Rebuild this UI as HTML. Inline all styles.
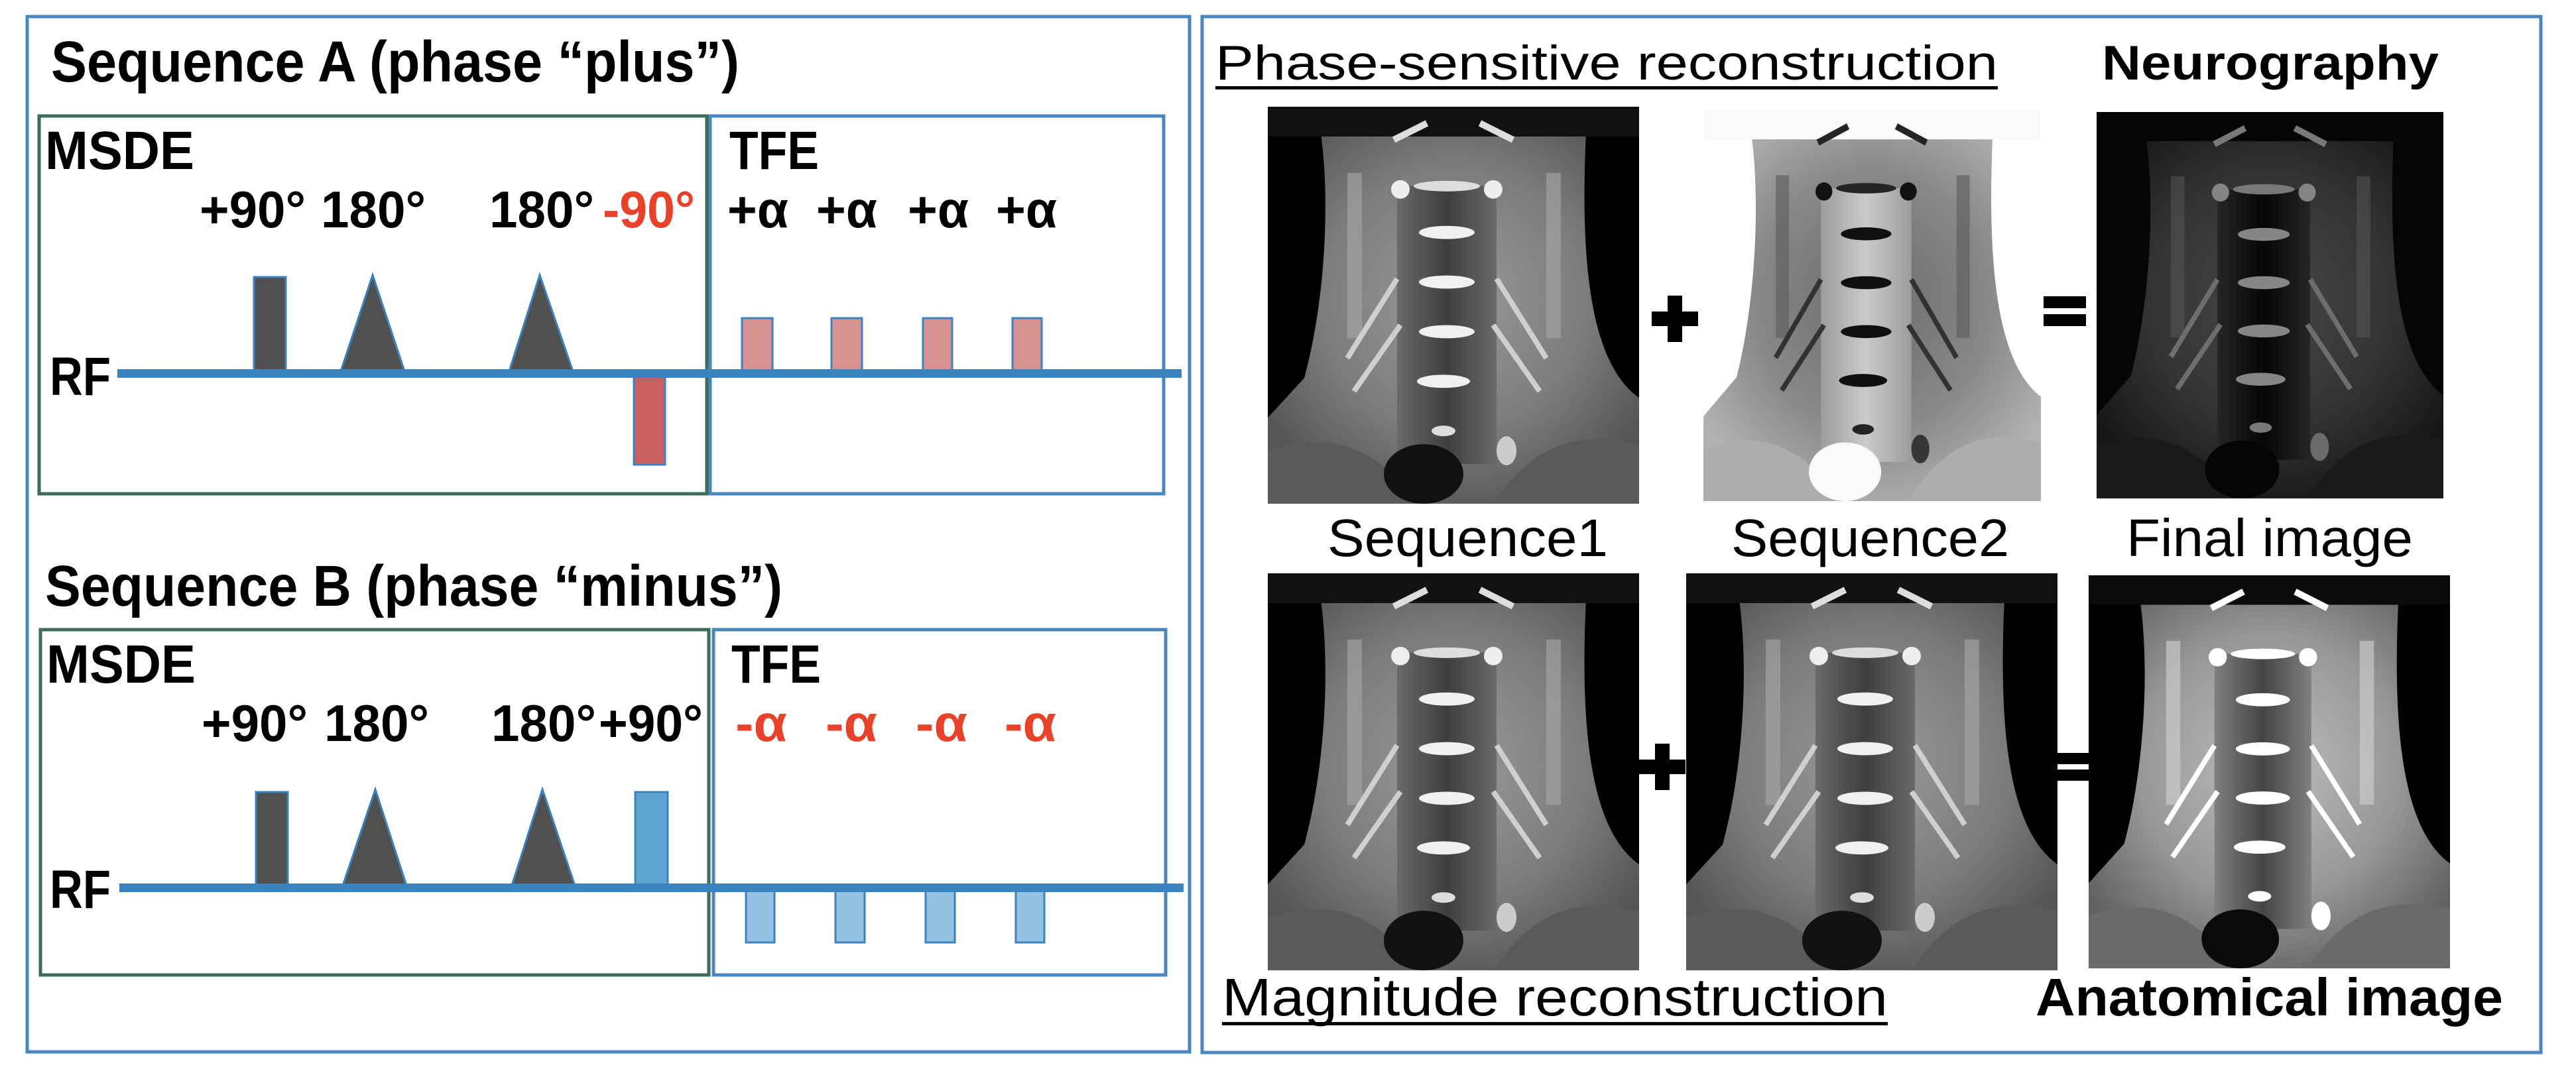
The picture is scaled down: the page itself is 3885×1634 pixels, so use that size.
<!DOCTYPE html>
<html><head><meta charset="utf-8"><style>
html,body{margin:0;padding:0;background:#fff;}
svg{display:block;}
text{font-family:"Liberation Sans",sans-serif;}
</style></head><body>
<svg width="3885" height="1634" viewBox="0 0 3885 1634" xmlns="http://www.w3.org/2000/svg">
<defs>
<radialGradient id="ng" cx="50%" cy="45%" r="60%">
<stop offset="0" stop-color="#9a9a9a"/><stop offset="0.6" stop-color="#7c7c7c"/><stop offset="1" stop-color="#555"/>
</radialGradient>
<linearGradient id="sp" x1="0" x2="1">
<stop offset="0" stop-color="#6a6a6a"/><stop offset="0.5" stop-color="#3e3e3e"/><stop offset="1" stop-color="#6a6a6a"/>
</linearGradient>
<g id="neck">
<rect x="0" y="0" width="560" height="600" fill="#000"/>
<path d="M80,40 C95,150 85,300 55,410 L0,470 L0,600 L560,600 L560,440 C490,390 470,250 480,40 Z" fill="url(#ng)"/>
<rect x="0" y="0" width="560" height="45" fill="#111"/>
<path d="M0,520 C120,480 180,540 230,600 L0,600 Z" fill="#5a5a5a"/>
<path d="M560,510 C440,480 380,540 340,600 L560,600 Z" fill="#5a5a5a"/>
<rect x="195" y="120" width="150" height="420" fill="url(#sp)"/>
<rect x="120" y="100" width="22" height="250" fill="#a8a8a8" opacity="0.6"/>
<rect x="420" y="100" width="22" height="250" fill="#a8a8a8" opacity="0.6"/>
<ellipse cx="270" cy="120" rx="50" ry="8" fill="#ddd"/>
<ellipse cx="200" cy="125" rx="14" ry="14" fill="#eee"/>
<ellipse cx="340" cy="125" rx="14" ry="14" fill="#eee"/>
<ellipse cx="270" cy="190" rx="42" ry="10" fill="#f0f0f0"/>
<ellipse cx="270" cy="265" rx="42" ry="10" fill="#f0f0f0"/>
<ellipse cx="270" cy="340" rx="42" ry="10" fill="#f0f0f0"/>
<ellipse cx="265" cy="415" rx="40" ry="10" fill="#f0f0f0"/>
<ellipse cx="265" cy="490" rx="18" ry="8" fill="#ddd"/>
<path d="M195,260 L120,380 M200,330 L130,430 M345,260 L420,380 M340,330 L410,430" stroke="#cfcfcf" stroke-width="8" fill="none"/>
<path d="M190,50 L240,25 M370,50 L320,25" stroke="#ddd" stroke-width="10"/>
<ellipse cx="235" cy="555" rx="60" ry="45" fill="#111"/>
<ellipse cx="360" cy="520" rx="15" ry="22" fill="#ccc"/>
</g>
</defs>

<rect x="41" y="25" width="1753" height="1562" fill="none" stroke="#4a86c0" stroke-width="5"/>
<rect x="1813" y="25" width="2019" height="1563" fill="none" stroke="#4a86c0" stroke-width="5"/>

<text x="77" y="123" font-size="87" font-weight="bold" textLength="1038" lengthAdjust="spacingAndGlyphs">Sequence A (phase “plus”)</text>
<rect x="59" y="175" width="1007" height="570" fill="none" stroke="#3d6b5e" stroke-width="5"/>
<rect x="1071" y="175" width="684" height="570" fill="none" stroke="#4a86c0" stroke-width="5"/>
<text x="68" y="255" font-size="82" font-weight="bold" textLength="225" lengthAdjust="spacingAndGlyphs">MSDE</text>
<text x="1100" y="255" font-size="82" font-weight="bold" textLength="135" lengthAdjust="spacingAndGlyphs">TFE</text>
<text x="301" y="343" font-size="78" font-weight="bold" textLength="160" lengthAdjust="spacingAndGlyphs">+90°</text>
<text x="484" y="343" font-size="78" font-weight="bold" textLength="158" lengthAdjust="spacingAndGlyphs">180°</text>
<text x="738" y="343" font-size="78" font-weight="bold" textLength="158" lengthAdjust="spacingAndGlyphs">180°</text>
<text x="909" y="343" font-size="78" font-weight="bold" fill="#e8432a" textLength="139" lengthAdjust="spacingAndGlyphs">-90°</text>
<g font-size="78" font-weight="bold">
<text x="1097" y="343" textLength="92" lengthAdjust="spacingAndGlyphs">+α</text>
<text x="1231" y="343" textLength="92" lengthAdjust="spacingAndGlyphs">+α</text>
<text x="1369" y="343" textLength="92" lengthAdjust="spacingAndGlyphs">+α</text>
<text x="1502" y="343" textLength="92" lengthAdjust="spacingAndGlyphs">+α</text>
</g>
<text x="75" y="596" font-size="82" font-weight="bold" textLength="92" lengthAdjust="spacingAndGlyphs">RF</text>
<g stroke="#3b82c0" stroke-width="3">
<rect x="383" y="418" width="48" height="145" fill="#505050"/>
<polygon points="513,563 562,415 611,563" fill="#505050"/>
<polygon points="767,563 814,415 865,563" fill="#505050"/>
<rect x="956" y="563" width="47" height="138" fill="#c86060"/>
<rect x="1119" y="480" width="46" height="83" fill="#d89292"/>
<rect x="1254" y="480" width="46" height="83" fill="#d89292"/>
<rect x="1392" y="480" width="44" height="83" fill="#d89292"/>
<rect x="1527" y="480" width="44" height="83" fill="#d89292"/>
</g>
<rect x="177" y="557" width="1605" height="13" fill="#3b82c0"/>

<text x="68" y="914" font-size="87" font-weight="bold" textLength="1112" lengthAdjust="spacingAndGlyphs">Sequence B (phase “minus”)</text>
<rect x="61" y="950" width="1008" height="521" fill="none" stroke="#3d6b5e" stroke-width="5"/>
<rect x="1076" y="950" width="682" height="521" fill="none" stroke="#4a86c0" stroke-width="5"/>
<text x="70" y="1030" font-size="82" font-weight="bold" textLength="225" lengthAdjust="spacingAndGlyphs">MSDE</text>
<text x="1103" y="1030" font-size="82" font-weight="bold" textLength="135" lengthAdjust="spacingAndGlyphs">TFE</text>
<text x="304" y="1118" font-size="78" font-weight="bold" textLength="160" lengthAdjust="spacingAndGlyphs">+90°</text>
<text x="489" y="1118" font-size="78" font-weight="bold" textLength="158" lengthAdjust="spacingAndGlyphs">180°</text>
<text x="741" y="1118" font-size="78" font-weight="bold" textLength="158" lengthAdjust="spacingAndGlyphs">180°</text>
<text x="903" y="1118" font-size="78" font-weight="bold" textLength="157" lengthAdjust="spacingAndGlyphs">+90°</text>
<g font-size="78" font-weight="bold" fill="#e8432a">
<text x="1109" y="1118" textLength="78" lengthAdjust="spacingAndGlyphs">-α</text>
<text x="1245" y="1118" textLength="78" lengthAdjust="spacingAndGlyphs">-α</text>
<text x="1381" y="1118" textLength="78" lengthAdjust="spacingAndGlyphs">-α</text>
<text x="1515" y="1118" textLength="78" lengthAdjust="spacingAndGlyphs">-α</text>
</g>
<text x="75" y="1370" font-size="82" font-weight="bold" textLength="92" lengthAdjust="spacingAndGlyphs">RF</text>
<g stroke="#3b82c0" stroke-width="3">
<rect x="386" y="1195" width="48" height="144" fill="#505050"/>
<polygon points="516,1339 566,1191 614,1339" fill="#505050"/>
<polygon points="771,1339 818,1191 868,1339" fill="#505050"/>
<rect x="958" y="1195" width="49" height="144" fill="#5ba3d0"/>
<rect x="1125" y="1339" width="43" height="83" fill="#93c3e0"/>
<rect x="1260" y="1339" width="44" height="83" fill="#93c3e0"/>
<rect x="1396" y="1339" width="44" height="83" fill="#93c3e0"/>
<rect x="1532" y="1339" width="43" height="83" fill="#93c3e0"/>
</g>
<rect x="180" y="1333" width="1605" height="13" fill="#3b82c0"/>

<text x="1833" y="120" font-size="73" textLength="1180" lengthAdjust="spacingAndGlyphs">Phase-sensitive reconstruction</text>
<rect x="1833" y="130" width="1180" height="5" fill="#000"/>
<text x="3170" y="120" font-size="73" font-weight="bold" textLength="508" lengthAdjust="spacingAndGlyphs">Neurography</text>

<svg x="1912" y="161" width="560" height="599" viewBox="0 0 560 600" preserveAspectRatio="none"><use href="#neck"/></svg>
<svg x="2569" y="166" width="509" height="590" viewBox="0 0 560 600" preserveAspectRatio="none"><g style="filter:invert(1) brightness(1.05)"><use href="#neck"/></g></svg>
<svg x="3162" y="169" width="523" height="583" viewBox="0 0 560 600" preserveAspectRatio="none"><rect width="560" height="600" fill="#262626"/><g style="filter:brightness(0.6) contrast(1.4)" opacity="0.85"><use href="#neck"/></g></svg>

<rect x="2515" y="446" width="22" height="70" fill="#000"/>
<rect x="2491" y="470" width="70" height="22" fill="#000"/>
<rect x="3082" y="447" width="64" height="18" fill="#000"/>
<rect x="3082" y="474" width="64" height="18" fill="#000"/>

<text x="2002" y="839" font-size="80" textLength="423" lengthAdjust="spacingAndGlyphs">Sequence1</text>
<text x="2611" y="839" font-size="80" textLength="419" lengthAdjust="spacingAndGlyphs">Sequence2</text>
<text x="3207" y="839" font-size="80" textLength="432" lengthAdjust="spacingAndGlyphs">Final image</text>

<svg x="1912" y="865" width="560" height="599" viewBox="0 0 560 600" preserveAspectRatio="none"><use href="#neck"/></svg>
<svg x="2543" y="865" width="560" height="599" viewBox="0 0 560 600" preserveAspectRatio="none"><use href="#neck"/></svg>
<svg x="3150" y="868" width="545" height="593" viewBox="0 0 560 600" preserveAspectRatio="none"><g style="filter:brightness(1.2) contrast(1.1)"><use href="#neck"/></g></svg>

<rect x="2496" y="1122" width="22" height="70" fill="#000"/>
<rect x="2472" y="1146" width="70" height="22" fill="#000"/>
<rect x="3097" y="1136" width="53" height="17" fill="#000"/>
<rect x="3097" y="1161" width="53" height="17" fill="#000"/>

<text x="1843" y="1532" font-size="80" textLength="1004" lengthAdjust="spacingAndGlyphs">Magnitude reconstruction</text>
<rect x="1843" y="1542" width="1004" height="5" fill="#000"/>
<text x="3070" y="1532" font-size="80" font-weight="bold" textLength="705" lengthAdjust="spacingAndGlyphs">Anatomical image</text>
</svg>
</body></html>
